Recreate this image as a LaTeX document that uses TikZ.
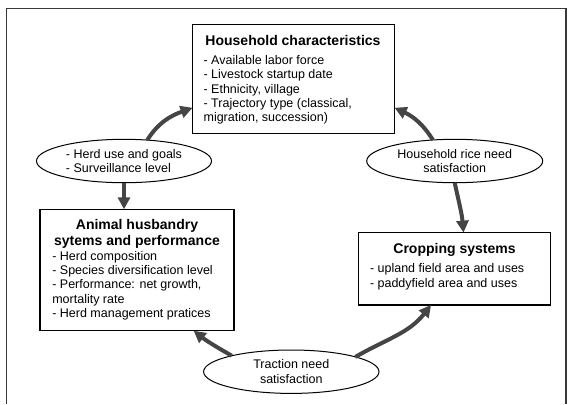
\documentclass[tikz,border=0pt]{standalone}
\usepackage{fontspec}
\setmainfont{Liberation Sans}
\usetikzlibrary{shapes.geometric,arrows.meta}
\definecolor{arrowgray}{gray}{0.27}
\definecolor{framegray}{gray}{0.22}
\begin{document}
\begin{tikzpicture}[x=1bp,y=1bp,
  every node/.style={inner sep=0pt, outer sep=0pt},
  box/.style={draw=black, line width=1.3bp, rectangle},
  oval/.style={draw=black, line width=1bp, ellipse, minimum height=43.4bp,
    font=\fontsize{12.5bp}{14.6bp}\selectfont},
  ttl/.style={anchor=base, font=\fontsize{14bp}{16bp}\selectfont\bfseries},
  itm/.style={anchor=base west, font=\fontsize{12.5bp}{14.4bp}\selectfont},
  arr/.style={draw=arrowgray, line width=4bp, -{Triangle[length=12bp,width=12bp]}}]
\useasboundingbox (0,0) rectangle (573,-404);
% frame
\coordinate (fbl) at (6.5,-404);
\coordinate (ftl) at (6.5,-8.5);
\coordinate (ftr) at (566,-8.5);
\coordinate (fbr) at (566,-404);
\draw[framegray, line width=1.2bp] (fbl) -- (ftl) -- (ftr) -- (fbr);
% boxes
\node[box, minimum width=202bp, minimum height=109bp] (hh) at (293.6,-78.8) {};
\node[box, minimum width=193.7bp, minimum height=121.4bp] (an) at (137,-270) {};
\node[box, minimum width=192.6bp, minimum height=72.3bp] (crop) at (454.5,-268.8) {};
% ovals
\node[oval, minimum width=175bp, align=left] (herd) at (124,-161) {- Herd use and goals\\- Surveillance level};
\node[oval, minimum width=176bp, align=center] (rice) at (454.7,-161) {Household rice need\\satisfaction};
\node[oval, minimum width=175.4bp, align=center] (trac) at (291.3,-371.7) {Traction need\\satisfaction};
% household text
\node[ttl] (hhT) at (293,-45) {Household characteristics};
\node[itm] (hh1) at (203.6,-64.5) {- Available labor force};
\node[itm] (hh2) at (203.6,-78.8) {- Livestock startup date};
\node[itm] (hh3) at (203.6,-93.1) {- Ethnicity, village};
\node[itm] (hh4) at (203.6,-107.4) {- Trajectory type (classical,};
\node[itm] (hh5) at (203.6,-121.7) {migration, succession)};
% animal text
\node[ttl] (anT1) at (137,-229) {Animal husbandry};
\node[ttl] (anT2) at (137,-245) {sytems and performance};
\node[itm] (an1) at (52.3,-260.2) {- Herd composition};
\node[itm] (an2) at (52.3,-274.5) {- Species diversification level};
\node[itm] (an3) at (52.3,-288.8) {- Performance: net growth,};
\node[itm] (an4) at (52.3,-303.3) {mortality rate};
\node[itm] (an5) at (52.3,-317.6) {- Herd management pratices};
% cropping text
\node[ttl] (crT) at (454.5,-253.3) {Cropping systems};
\node[itm] (cr1) at (370,-272.8) {- upland field area and uses};
\node[itm] (cr2) at (370,-287.8) {- paddyfield area and uses};
% arrows
\draw[arr] (herd.42) to[out=58,in=200] (hh.196);
\draw[arr] (rice.136) to[out=122,in=-25] (hh.-16);
\draw[arr] (herd.south) -- (herd.south |- an.north);
\draw[arr] (rice.south) to[out=-78,in=95] (crop.76);
\draw[arr] (trac.165) to[out=150,in=-38] (an.-47);
\draw[arr] (trac.13) to[out=30,in=-128] (crop.-123);
\end{tikzpicture}
\end{document}
